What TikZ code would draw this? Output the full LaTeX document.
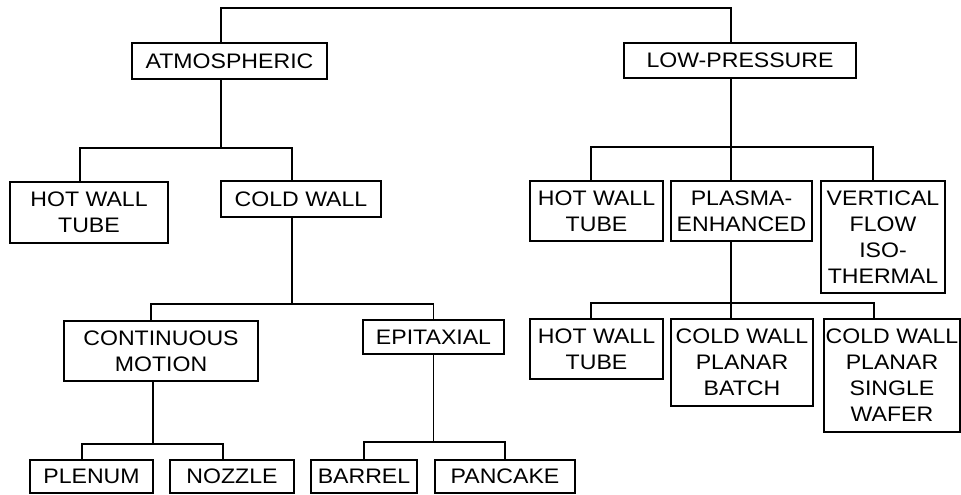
\documentclass[tikz,border=0pt]{standalone}
\usepackage{fontspec}
\setmainfont{Liberation Sans}[FakeStretch=1.1]

\begin{document}
\begin{tikzpicture}[x=0.5pt,y=-0.5pt,line width=0.8pt,
  box/.style={draw,align=center,inner sep=0pt,font=\fontsize{10.5}{13}\selectfont}]
\useasboundingbox (0,0) rectangle (961,494);
% first level
\node[box,minimum width=97.5pt,minimum height=18pt] (atm) at (229.5,61) {ATMOSPHERIC};
\node[box,minimum width=116pt,minimum height=17.5pt] (lp) at (740,60.5) {LOW-PRESSURE};
% second level
\node[box,minimum width=79pt,minimum height=30.5pt] (hwta) at (89,212.5) {HOT WALL\\TUBE};
\node[box,minimum width=80pt,minimum height=18pt] (cw) at (301,199) {COLD WALL};
\node[box,minimum width=66.5pt,minimum height=30pt] (hwtb) at (596.5,211) {HOT WALL\\TUBE};
\node[box,minimum width=70.5pt,minimum height=30pt] (pe) at (741.5,211) {PLASMA-\\ENHANCED};
\node[box,minimum width=62pt,minimum height=56pt] (vfi) at (883,237) {VERTICAL\\FLOW\\ISO-\\THERMAL};
% third level
\node[box,minimum width=97pt,minimum height=30pt] (cm) at (161,351) {CONTINUOUS\\MOTION};
\node[box,minimum width=70.5pt,minimum height=17pt] (epi) at (433.5,337) {EPITAXIAL};
\node[box,minimum width=66.5pt,minimum height=30pt] (hwtc) at (596.5,349) {HOT WALL\\TUBE};
\node[box,minimum width=71pt,minimum height=43.5pt] (cwpb) at (742,362.5) {COLD WALL\\PLANAR\\BATCH};
\node[box,minimum width=68pt,minimum height=56.5pt] (cwps) at (892,375.5) {COLD WALL\\PLANAR\\SINGLE\\WAFER};
% fourth level
\node[box,minimum width=61.5pt,minimum height=16.5pt] (plen) at (91.5,476.5) {PLENUM};
\node[box,minimum width=62pt,minimum height=16.5pt] (noz) at (232,476.5) {NOZZLE};
\node[box,minimum width=53pt,minimum height=16.5pt] (bar) at (364,476.5) {BARREL};
\node[box,minimum width=70pt,minimum height=16.5pt] (pan) at (505,476.5) {PANCAKE};
% connectors
\draw ([xshift=-4.25pt]atm.north) -- ++(0,-34) -| ([xshift=-4.5pt]lp.north);
\draw ([xshift=-4.25pt]atm.south) -- ++(0,68) -| ([xshift=-4.5pt]hwta.north);
\draw ([xshift=-4.25pt]atm.south) -- ++(0,68) -| ([xshift=-4.5pt]cw.north);
\draw ([xshift=-4.5pt]lp.south) -- ++(0,68) -| ([xshift=-2.75pt]hwtb.north);
\draw ([xshift=-4.5pt]lp.south) -- ++(0,68) -| ([xshift=-5.25pt]pe.north);
\draw ([xshift=-4.5pt]lp.south) -- ++(0,68) -| ([xshift=-5pt]vfi.north);
\draw ([xshift=-4.5pt]cw.south) -- ++(0,86) -| ([xshift=-5pt]cm.north);
\draw ([xshift=-4.5pt]cw.south) -- ++(0,86) -| (epi.north);
\draw ([xshift=-5.25pt]pe.south) -- ++(0,61) -| ([xshift=-2.75pt]hwtc.north);
\draw ([xshift=-5.25pt]pe.south) -- ++(0,61) -| ([xshift=-5.5pt]cwpb.north);
\draw ([xshift=-5.25pt]pe.south) -- ++(0,61) -| ([xshift=-9pt]cwps.north);
\draw ([xshift=-4pt]cm.south) -- ++(0,62) -| ([xshift=-4.75pt]plen.north);
\draw ([xshift=-4pt]cm.south) -- ++(0,62) -| ([xshift=-4.5pt]noz.north);
\draw (epi.south) -- ++(0,87) -| (bar.north);
\draw (epi.south) -- ++(0,87) -| (pan.north);
\end{tikzpicture}
\end{document}
